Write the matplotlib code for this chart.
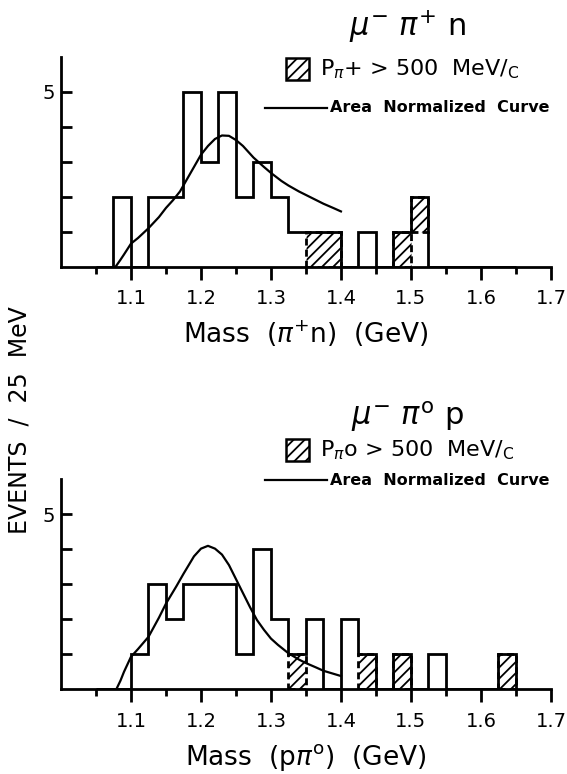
import numpy as np
import matplotlib
matplotlib.use("Agg")
from matplotlib import pyplot as plt
import matplotlib.patches as patches
from matplotlib.lines import Line2D

plt.rcParams['font.family'] = ['DejaVu Sans']
plt.rcParams['hatch.linewidth'] = 1.3

# bin edges (25 MeV bins)
edges = np.round(np.arange(1.05, 1.675, 0.025), 3)

# mu- pi+ n : open and hatched (P > 500 MeV/c) counts per bin
top_open = [0, 2, 0, 2, 2, 5, 3, 5, 2, 3, 2, 1, 0, 0, 0, 1, 0, 0, 1, 0, 0, 0, 0, 0]
top_hatch = [0, 0, 0, 0, 0, 0, 0, 0, 0, 0, 0, 0, 1, 1, 0, 0, 0, 1, 1, 0, 0, 0, 0, 0]

# mu- pi0 p
bot_open = [0, 0, 1, 3, 2, 3, 3, 3, 1, 4, 2, 0, 2, 0, 2, 0, 0, 0, 0, 1, 0, 0, 0, 0]
bot_hatch = [0, 0, 0, 0, 0, 0, 0, 0, 0, 0, 0, 1, 0, 0, 0, 1, 0, 1, 0, 0, 0, 0, 0, 1]

# area normalized curves
top_curve_x = [1.078, 1.085, 1.09, 1.10, 1.11, 1.125, 1.14, 1.15, 1.16, 1.17,
               1.18, 1.19, 1.20, 1.21, 1.22, 1.23, 1.24, 1.25, 1.26, 1.275,
               1.29, 1.30, 1.315, 1.325, 1.34, 1.35, 1.365, 1.375, 1.39, 1.40]
top_curve_y = [0.0, 0.2, 0.35, 0.66, 0.82, 1.1, 1.42, 1.68, 1.9, 2.15,
               2.5, 2.85, 3.2, 3.45, 3.65, 3.75, 3.74, 3.62, 3.45, 3.12,
               2.85, 2.68, 2.45, 2.32, 2.15, 2.05, 1.9, 1.80, 1.67, 1.58]

bot_curve_x = [1.079, 1.085, 1.09, 1.10, 1.11, 1.125, 1.14, 1.15, 1.165, 1.175,
               1.19, 1.20, 1.21, 1.22, 1.23, 1.24, 1.25, 1.26, 1.27, 1.28,
               1.29, 1.30, 1.31, 1.325, 1.34, 1.35, 1.365, 1.375, 1.39, 1.40]
bot_curve_y = [0.0, 0.25, 0.5, 0.93, 1.15, 1.5, 2.05, 2.45, 2.95, 3.3,
               3.8, 4.02, 4.10, 4.02, 3.85, 3.55, 3.15, 2.75, 2.35, 1.98,
               1.7, 1.45, 1.27, 1.03, 0.85, 0.75, 0.62, 0.53, 0.44, 0.38]

panels = [
    dict(open=top_open, hatch=top_hatch, cx=top_curve_x, cy=top_curve_y,
         title=r"$\mu^{-}\ \pi^{+}$ n", leg=r"P$_{\pi}$+ > 500  MeV/$_{\mathregular{C}}$",
         xlabel=r"Mass  ($\pi^{+}$n)  (GeV)", rect=[0.1076, 0.6554, 0.864, 0.2713],
         title_y=0.965, leg_y=0.911, line_y=0.8605),
    dict(open=bot_open, hatch=bot_hatch, cx=bot_curve_x, cy=bot_curve_y,
         title=r"$\mu^{-}\ \pi^{\mathregular{o}}$ p", leg=r"P$_{\pi}$o > 500  MeV/$_{\mathregular{C}}$",
         xlabel=r"Mass  (p$\pi^{\mathregular{o}}$)  (GeV)", rect=[0.1076, 0.1094, 0.864, 0.2713],
         title_y=0.4615, leg_y=0.4186, line_y=0.3798),
]

fig = plt.figure(figsize=(5.67, 7.74), dpi=100)

LW = 2.0
for p in panels:
    ax = fig.add_axes(p['rect'])
    op = np.array(p['open'])
    ht = np.array(p['hatch'])
    total = op + ht

    # hatched parts, merged into runs so no line is drawn between equal neighbours
    i = 0
    while i < len(ht):
        if ht[i] > 0:
            j = i
            while j + 1 < len(ht) and ht[j + 1] == ht[i] and op[j + 1] == op[i]:
                j += 1
            ax.bar(edges[i], ht[i], width=edges[j + 1] - edges[i], bottom=op[i],
                   align='edge', fill=False, hatch='///', edgecolor='black',
                   linewidth=LW, linestyle=(0, (2.5, 1.5)), zorder=2)
            i = j + 1
        else:
            i += 1

    ax.stairs(total, edges, color='black', linewidth=LW, baseline=0, zorder=3)
    ax.plot(p['cx'], p['cy'], color='black', linewidth=1.6, zorder=4)

    ax.set_xlim(1.0, 1.7)
    ax.set_ylim(0, 6)
    for s in ['top', 'right']:
        ax.spines[s].set_visible(False)
    for s in ['left', 'bottom']:
        ax.spines[s].set_linewidth(LW)

    ax.set_xticks(np.round(np.arange(1.1, 1.75, 0.1), 2))
    ax.set_xticklabels(['1.1', '1.2', '1.3', '1.4', '1.5', '1.6', '1.7'])
    ax.set_xticks(np.round(np.arange(1.05, 1.7, 0.1), 3), minor=True)
    ax.tick_params(axis='x', which='major', direction='out', length=9, width=LW,
                   labelsize=14, pad=7)
    ax.tick_params(axis='x', which='minor', direction='out', length=5, width=LW)
    ax.set_yticks([1, 2, 3, 4, 5])
    ax.set_yticklabels(['', '', '', '', '5'])
    ax.tick_params(axis='y', direction='in', length=8, width=LW, labelsize=14, pad=4)

    ax.set_xlabel(p['xlabel'], fontsize=19, labelpad=8)

    # title and legend (figure coordinates)
    fig.text(0.7196, p['title_y'], p['title'], fontsize=22, ha='center', va='center')
    box = patches.Rectangle((0.5044, p['leg_y'] - 0.014), 0.0406, 0.028,
                            transform=fig.transFigure, fill=False, hatch='///',
                            edgecolor='black', linewidth=1.8)
    fig.patches.append(box)
    fig.text(0.5644, p['leg_y'], p['leg'], fontsize=16, ha='left', va='center')
    fig.add_artist(Line2D([0.4674, 0.5767], [p['line_y'], p['line_y']],
                          transform=fig.transFigure, color='black', linewidth=1.6))
    fig.text(0.5820, p['line_y'], "Area  Normalized  Curve", fontsize=11.5,
             fontweight='bold', ha='left', va='center')

fig.text(0.035, 0.457, "EVENTS  /  25  MeV", rotation=90, fontsize=17,
         ha='center', va='center')

plt.savefig("out.png", dpi=100)
